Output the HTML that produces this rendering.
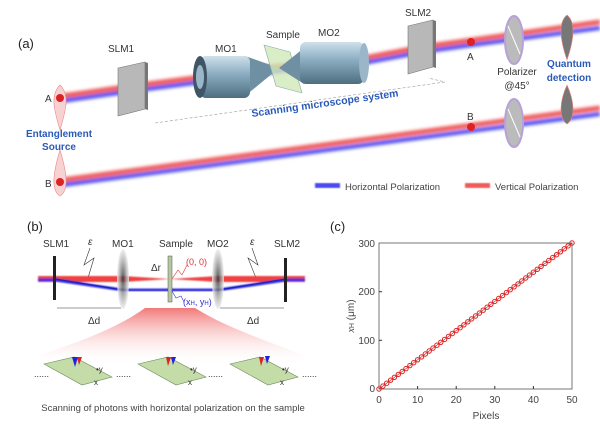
<!DOCTYPE html>
<html><head><meta charset="utf-8"><style>
html,body{margin:0;padding:0;background:#fff;}
svg{display:block;font-family:"Liberation Sans",sans-serif;}
</style></head><body>
<svg width="600" height="432" viewBox="0 0 600 432" xmlns="http://www.w3.org/2000/svg">
<defs>
<filter id="bl" x="-10%" y="-50%" width="120%" height="200%"><feGaussianBlur stdDeviation="1.6"/></filter>
<filter id="bl2"><feGaussianBlur stdDeviation="0.8"/></filter>
<linearGradient id="cyl" x1="0" y1="0" x2="0" y2="1">
<stop offset="0" stop-color="#cfe0ea"/><stop offset="0.4" stop-color="#8fb0c4"/><stop offset="1" stop-color="#4d6d80"/></linearGradient>
<linearGradient id="fan" x1="0" y1="0" x2="0" y2="1">
<stop offset="0" stop-color="#f06a6a" stop-opacity="0.9"/><stop offset="1" stop-color="#fff" stop-opacity="0"/></linearGradient>
<radialGradient id="lens"><stop offset="0" stop-color="#333"/><stop offset="0.6" stop-color="#aaa"/><stop offset="1" stop-color="#eee"/></radialGradient>
</defs>

<!-- ===== Panel (a) ===== -->
<text x="18" y="48" font-size="13" fill="#222">(a)</text>
<!-- dashed base -->
<polyline points="155,123 445,82 428,78" fill="none" stroke="#999" stroke-width="0.6" stroke-dasharray="3,2"/>
<!-- beam A -->
<g filter="url(#bl)">
<polyline points="62,96 132,86 194,78 279,66 364,58 422,47 472,40 600,22" fill="none" stroke="#f05a5a" stroke-width="5"/>
<polyline points="62,101 132,91 194,83 279,71 364,63 422,52 472,45 600,28" fill="none" stroke="#4a4af0" stroke-width="4"/>
</g>
<!-- beam B -->
<g filter="url(#bl)">
<polyline points="62,180 600,108" fill="none" stroke="#f05a5a" stroke-width="5"/>
<polyline points="62,185 600,114" fill="none" stroke="#4a4af0" stroke-width="4"/>
</g>
<!-- SLM1 -->
<text x="108" y="52" font-size="10" fill="#333">SLM1</text>
<polygon points="118,68 145,62 145,109 118,116" fill="#b8b8b8" stroke="#777" stroke-width="0.6"/>
<polygon points="145,62 148,63 148,110 145,109" fill="#777"/>
<!-- MO1 -->
<text x="215" y="52" font-size="10" fill="#333">MO1</text>
<polygon points="245,56 279,68 245,96" fill="#6f8fa3"/>
<rect x="200" y="56" width="50" height="42" rx="6" fill="url(#cyl)"/>
<ellipse cx="200" cy="77" rx="7" ry="21" fill="#3e5566"/>
<ellipse cx="200" cy="77" rx="4" ry="12" fill="#9bb6c8"/>
<!-- Sample -->
<text x="266" y="38" font-size="10" fill="#333">Sample</text>
<polygon points="264,45 290,52 302,93 276,86" fill="#cfe8b8" fill-opacity="0.8" stroke="#8aa" stroke-width="0.6"/>
<!-- MO2 -->
<text x="318" y="36" font-size="10" fill="#333">MO2</text>
<polygon points="279,68 304,48 304,84" fill="#6f8fa3"/>
<rect x="300" y="42" width="64" height="42" rx="6" fill="url(#cyl)"/>
<ellipse cx="364" cy="63" rx="5" ry="20" fill="#9bb6c8"/>
<!-- SLM2 -->
<text x="405" y="16" font-size="10" fill="#333">SLM2</text>
<polygon points="408,26 433,20 433,67 408,74" fill="#b8b8b8" stroke="#777" stroke-width="0.6"/>
<polygon points="433,20 436,21 436,68 433,67" fill="#777"/>
<text transform="translate(252,117) rotate(-8)" font-size="10.5" font-weight="bold" fill="#2a5ab8">Scanning microscope system</text>
<!-- source lobes -->
<path d="M60,85 C50,95 54,110 60,130 C66,110 70,95 60,85Z M60,150 C54,170 50,190 60,196 C70,190 66,170 60,150Z" fill="#f6d2d2" stroke="#e88" stroke-width="0.6"/>
<circle cx="60" cy="98" r="4" fill="#d22"/><circle cx="60" cy="182" r="4" fill="#d22"/>
<text x="45" y="102" font-size="10" fill="#333">A</text>
<text x="45" y="187" font-size="10" fill="#333">B</text>
<text x="59" y="137" font-size="10" font-weight="bold" fill="#2a5ab8" text-anchor="middle">Entanglement</text>
<text x="59" y="150" font-size="10" font-weight="bold" fill="#2a5ab8" text-anchor="middle">Source</text>
<!-- right side A/B -->
<circle cx="471" cy="42" r="4" fill="#d22"/><text x="467" y="60" font-size="10" fill="#333">A</text>
<circle cx="471" cy="127" r="4" fill="#d22"/><text x="467" y="120" font-size="10" fill="#333">B</text>
<!-- polarizers -->
<ellipse cx="514" cy="40" rx="9" ry="24" fill="#bbb" stroke="#b8a0d8" stroke-width="2"/>
<line x1="508" y1="26" x2="520" y2="54" stroke="#fff" stroke-width="1"/>
<ellipse cx="514" cy="123" rx="9" ry="24" fill="#bbb" stroke="#b8a0d8" stroke-width="2"/>
<line x1="508" y1="109" x2="520" y2="137" stroke="#fff" stroke-width="1"/>
<text x="517" y="75" font-size="10" fill="#333" text-anchor="middle">Polarizer</text>
<text x="517" y="89" font-size="10" fill="#333" text-anchor="middle">@45°</text>
<!-- detection lobes -->
<path d="M567,15 C558,22 560,40 567,60 C574,40 576,22 567,15Z M567,85 C560,100 558,118 567,124 C576,118 574,100 567,85Z" fill="#777" stroke="#e88" stroke-width="0.6"/>
<text x="569" y="67" font-size="10" font-weight="bold" fill="#2a5ab8" text-anchor="middle">Quantum</text>
<text x="569" y="81" font-size="10" font-weight="bold" fill="#2a5ab8" text-anchor="middle">detection</text>
<!-- legend -->
<rect x="315" y="183" width="25" height="5" fill="#4a4af0" filter="url(#bl2)"/>
<text x="345" y="190" font-size="9.5" fill="#444">Horizontal Polarization</text>
<rect x="465" y="183" width="25" height="5" fill="#f05a5a" filter="url(#bl2)"/>
<text x="495" y="190" font-size="9.5" fill="#444">Vertical Polarization</text>

<!-- ===== Panel (b) ===== -->
<text x="27" y="231" font-size="13" fill="#222">(b)</text>
<text x="43" y="247" font-size="10" fill="#333">SLM1</text>
<text x="112" y="247" font-size="10" fill="#333">MO1</text>
<text x="159" y="247" font-size="10" fill="#333">Sample</text>
<text x="207" y="247" font-size="10" fill="#333">MO2</text>
<text x="274" y="247" font-size="10" fill="#333">SLM2</text>
<text x="88" y="245" font-size="10" font-style="italic" fill="#333">ε</text>
<text x="250" y="245" font-size="10" font-style="italic" fill="#333">ε</text>
<polyline points="90,248 84,265 94,258 88,278" fill="none" stroke="#333" stroke-width="0.6"/>
<polyline points="252,248 258,265 248,258 256,278" fill="none" stroke="#333" stroke-width="0.6"/>
<g filter="url(#bl2)">
<polygon points="38,276 123,276 170,279 123,282 38,282" fill="#f04040"/>
<polygon points="170,279 218,276 305,276 305,282 218,282" fill="#f04040"/>
<polyline points="38,280 55,280 123,290 170,290 218,290 286,280 305,280" fill="none" stroke="#3030e0" stroke-width="3"/>
</g>
<line x1="55" y1="279" x2="123" y2="290" stroke="#2020c0" stroke-width="1.2"/>
<line x1="218" y1="290" x2="286" y2="279" stroke="#2020c0" stroke-width="1.2"/>
<rect x="53" y="256" width="3" height="44" fill="#222"/>
<rect x="284" y="258" width="3" height="44" fill="#222"/>
<ellipse cx="123" cy="279" rx="6" ry="30" fill="url(#lens)" opacity="0.8"/>
<ellipse cx="218" cy="279" rx="6" ry="30" fill="url(#lens)" opacity="0.8"/>
<rect x="168" y="256" width="4" height="46" fill="#b5c8a0" stroke="#555" stroke-width="0.5"/>
<text x="151" y="271" font-size="10" fill="#333">Δr</text>
<text x="186" y="265" font-size="9" fill="#e03030">(0, 0)</text>
<polyline points="172,279 178,270 182,275 187,265" fill="none" stroke="#e03030" stroke-width="0.6"/>
<text x="183" y="305" font-size="9" fill="#3030d0">(x<tspan font-size="6">H</tspan>, y<tspan font-size="6">H</tspan>)</text>
<polyline points="172,291 176,298 181,296 184,302" fill="none" stroke="#3030d0" stroke-width="0.6"/>
<line x1="57" y1="308" x2="121" y2="308" stroke="#333" stroke-width="0.6"/>
<line x1="220" y1="308" x2="284" y2="308" stroke="#333" stroke-width="0.6"/>
<text x="88" y="324" font-size="10" fill="#333">Δd</text>
<text x="247" y="324" font-size="10" fill="#333">Δd</text>
<path d="M145,308 L195,308 C230,330 280,345 302,355 L302,365 L40,365 L40,355 C70,345 115,330 145,308Z" fill="url(#fan)"/>
<!-- slides -->
<g>
<polygon points="44,364 74,357 112,377 82,385" fill="#c4dca8" stroke="#6a8a5a" stroke-width="0.6"/>
<polygon points="138,364 168,357 206,377 176,385" fill="#c4dca8" stroke="#6a8a5a" stroke-width="0.6"/>
<polygon points="230,364 260,357 298,377 268,385" fill="#c4dca8" stroke="#6a8a5a" stroke-width="0.6"/>
<polygon points="72,357 78,357 75,367" fill="#2222dd"/><polygon points="77,357 82,357 79,365" fill="#dd2222"/>
<polygon points="166,357 171,357 168,366" fill="#dd2222"/><polygon points="171,357 176,357 173,365" fill="#2222dd"/>
<polygon points="259,357 264,357 261,366" fill="#dd2222"/><polygon points="265,356 270,356 267,364" fill="#2222dd"/>
<text x="96" y="372" font-size="8" fill="#333">•y</text><text x="94" y="385" font-size="8" fill="#333">x</text>
<text x="190" y="372" font-size="8" fill="#333">•y</text><text x="188" y="385" font-size="8" fill="#333">x</text>
<text x="282" y="372" font-size="8" fill="#333">•y</text><text x="280" y="385" font-size="8" fill="#333">x</text>
<text x="34" y="377" font-size="9" fill="#333">......</text>
<text x="116" y="377" font-size="9" fill="#333">......</text>
<text x="208" y="377" font-size="9" fill="#333">......</text>
<text x="302" y="377" font-size="9" fill="#333">......</text>
</g>
<text x="173" y="411" font-size="9.5" fill="#444" text-anchor="middle">Scanning of photons with horizontal polarization on the sample</text>

<!-- ===== Panel (c) ===== -->
<text x="330" y="231" font-size="13" fill="#222">(c)</text>
<rect x="379" y="243" width="193" height="146" fill="none" stroke="#555" stroke-width="0.8"/>
<g stroke="#333" stroke-width="1">
<line x1="417.6" y1="389" x2="417.6" y2="386"/><line x1="456.2" y1="389" x2="456.2" y2="386"/>
<line x1="494.8" y1="389" x2="494.8" y2="386"/><line x1="533.4" y1="389" x2="533.4" y2="386"/>
<line x1="379" y1="340.3" x2="382" y2="340.3"/><line x1="379" y1="291.7" x2="382" y2="291.7"/>
</g>
<g font-size="10" fill="#444" text-anchor="middle">
<text x="379" y="403">0</text><text x="417.6" y="403">10</text><text x="456.2" y="403">20</text>
<text x="494.8" y="403">30</text><text x="533.4" y="403">40</text><text x="572" y="403">50</text>
<text x="486" y="419">Pixels</text>
</g>
<g font-size="10" fill="#444" text-anchor="end">
<text x="375" y="392">0</text><text x="375" y="344">100</text><text x="375" y="295">200</text><text x="375" y="247">300</text>
</g>
<text transform="translate(354,316) rotate(-90)" font-size="10" fill="#444" text-anchor="middle"><tspan font-family="Liberation Serif" font-style="italic">x</tspan><tspan font-size="7">H</tspan> (μm)</text>
<g id="pts" fill="none" stroke="#e02020" stroke-width="1"></g>
<line x1="379" y1="389" x2="572" y2="243" stroke="#b02020" stroke-width="0.6"/>
<g fill="none" stroke="#e02020" stroke-width="1">
<circle cx="379.0" cy="389.0" r="2.2"/><circle cx="382.9" cy="386.1" r="2.2"/><circle cx="386.7" cy="383.2" r="2.2"/><circle cx="390.6" cy="380.2" r="2.2"/><circle cx="394.4" cy="377.3" r="2.2"/><circle cx="398.3" cy="374.4" r="2.2"/><circle cx="402.2" cy="371.5" r="2.2"/><circle cx="406.0" cy="368.6" r="2.2"/><circle cx="409.9" cy="365.6" r="2.2"/><circle cx="413.7" cy="362.7" r="2.2"/><circle cx="417.6" cy="359.8" r="2.2"/><circle cx="421.5" cy="356.9" r="2.2"/><circle cx="425.3" cy="354.0" r="2.2"/><circle cx="429.2" cy="351.0" r="2.2"/><circle cx="433.0" cy="348.1" r="2.2"/><circle cx="436.9" cy="345.2" r="2.2"/><circle cx="440.8" cy="342.3" r="2.2"/><circle cx="444.6" cy="339.4" r="2.2"/><circle cx="448.5" cy="336.4" r="2.2"/><circle cx="452.3" cy="333.5" r="2.2"/><circle cx="456.2" cy="330.6" r="2.2"/><circle cx="460.1" cy="327.7" r="2.2"/><circle cx="463.9" cy="324.8" r="2.2"/><circle cx="467.8" cy="321.8" r="2.2"/><circle cx="471.6" cy="318.9" r="2.2"/><circle cx="475.5" cy="316.0" r="2.2"/><circle cx="479.4" cy="313.1" r="2.2"/><circle cx="483.2" cy="310.2" r="2.2"/><circle cx="487.1" cy="307.2" r="2.2"/><circle cx="490.9" cy="304.3" r="2.2"/><circle cx="494.8" cy="301.4" r="2.2"/><circle cx="498.7" cy="298.5" r="2.2"/><circle cx="502.5" cy="295.6" r="2.2"/><circle cx="506.4" cy="292.6" r="2.2"/><circle cx="510.2" cy="289.7" r="2.2"/><circle cx="514.1" cy="286.8" r="2.2"/><circle cx="518.0" cy="283.9" r="2.2"/><circle cx="521.8" cy="281.0" r="2.2"/><circle cx="525.7" cy="278.0" r="2.2"/><circle cx="529.5" cy="275.1" r="2.2"/><circle cx="533.4" cy="272.2" r="2.2"/><circle cx="537.3" cy="269.3" r="2.2"/><circle cx="541.1" cy="266.4" r="2.2"/><circle cx="545.0" cy="263.4" r="2.2"/><circle cx="548.8" cy="260.5" r="2.2"/><circle cx="552.7" cy="257.6" r="2.2"/><circle cx="556.6" cy="254.7" r="2.2"/><circle cx="560.4" cy="251.8" r="2.2"/><circle cx="564.3" cy="248.8" r="2.2"/><circle cx="568.1" cy="245.9" r="2.2"/><circle cx="572.0" cy="243.0" r="2.2"/>
</g>
</svg>
</body></html>
